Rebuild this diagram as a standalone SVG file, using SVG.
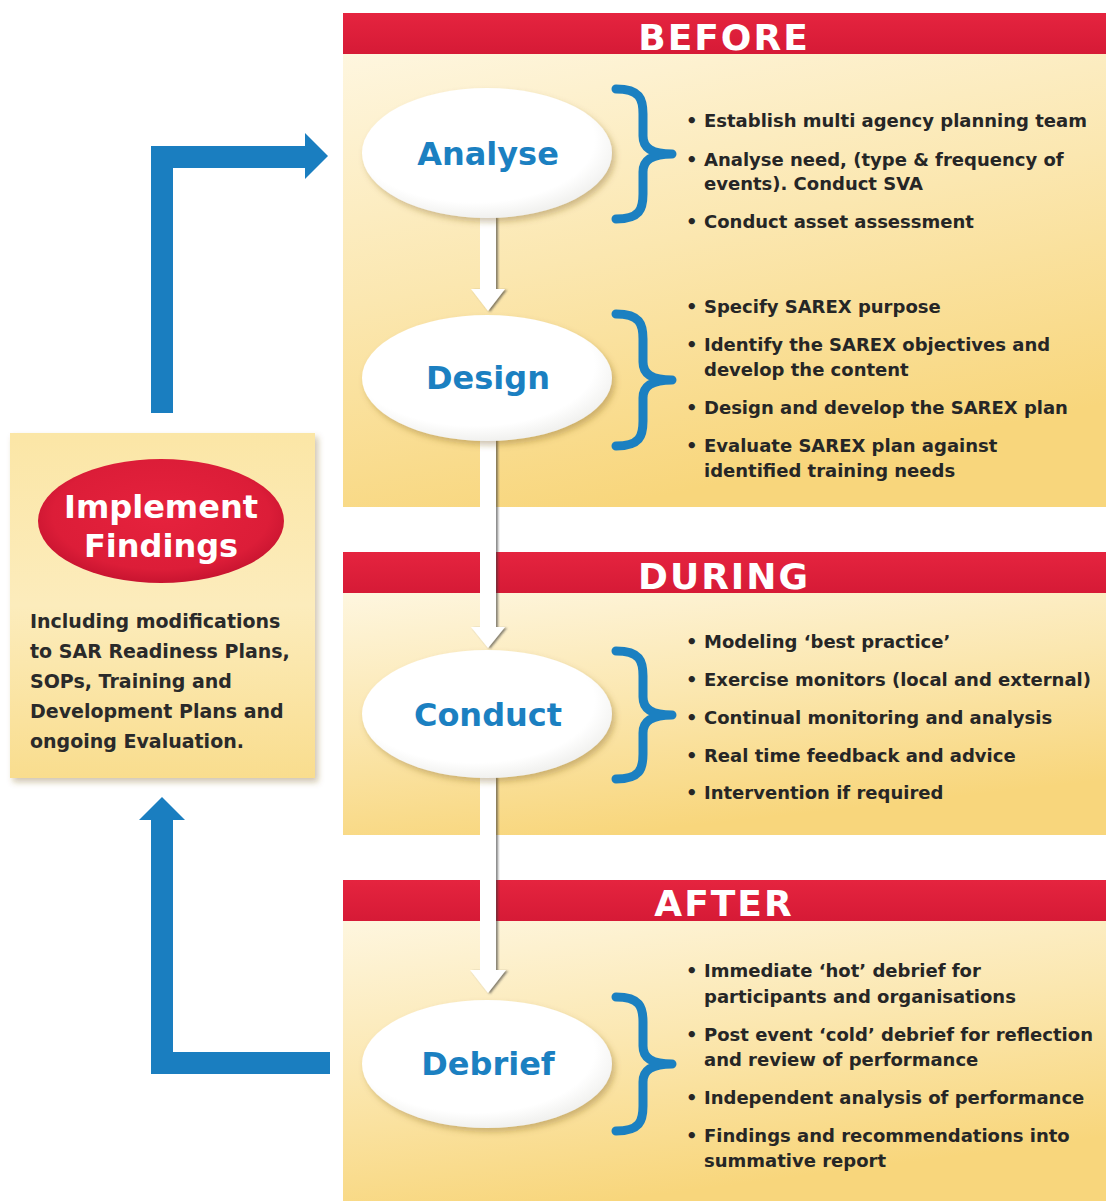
<svg xmlns="http://www.w3.org/2000/svg" width="1106" height="1201" viewBox="0 0 1106 1201">
<defs>
<linearGradient id="panel" x1="0" y1="0" x2="0.35" y2="1">
<stop offset="0" stop-color="#fef6df"/>
<stop offset="0.5" stop-color="#fbe7b0"/>
<stop offset="1" stop-color="#f8d67c"/>
</linearGradient>
<linearGradient id="leftbox" x1="0" y1="0" x2="0" y2="1">
<stop offset="0" stop-color="#fbe6a6"/>
<stop offset="0.5" stop-color="#fcecbc"/>
<stop offset="1" stop-color="#f9dd8e"/>
</linearGradient>
<linearGradient id="redbar" x1="0" y1="0" x2="0" y2="1">
<stop offset="0" stop-color="#e5243f"/>
<stop offset="1" stop-color="#d61a36"/>
</linearGradient>
<radialGradient id="redell" cx="0.5" cy="0.45" r="0.55">
<stop offset="0" stop-color="#e6223d"/>
<stop offset="0.8" stop-color="#dc1d38"/>
<stop offset="1" stop-color="#c81430"/>
</radialGradient>
<radialGradient id="whiteell" cx="0.45" cy="0.4" r="0.6">
<stop offset="0" stop-color="#ffffff"/>
<stop offset="0.8" stop-color="#ffffff"/>
<stop offset="1" stop-color="#f1f1ef"/>
</radialGradient>
<filter id="shadow" x="-10%" y="-10%" width="125%" height="130%">
<feDropShadow dx="3" dy="4" stdDeviation="3" flood-color="#7a5a20" flood-opacity="0.35"/>
</filter>
<filter id="ashadow" x="-50%" y="-10%" width="200%" height="130%">
<feDropShadow dx="2" dy="1" stdDeviation="1.2" flood-color="#333" flood-opacity="0.6"/>
</filter>
<style>
.hdr{font-family:"DejaVu Sans","Liberation Sans",sans-serif;font-weight:bold;font-size:36px;fill:#ffffff;text-anchor:middle;letter-spacing:2px}
.node{font-family:"DejaVu Sans","Liberation Sans",sans-serif;font-weight:bold;font-size:32px;fill:#1b80c1;text-anchor:middle}
.bul{font-family:"DejaVu Sans","Liberation Sans",sans-serif;font-weight:bold;font-size:18px;fill:#262626}
.lb{font-family:"DejaVu Sans","Liberation Sans",sans-serif;font-weight:bold;font-size:19px;fill:#2a2a2a}
.imp{font-family:"DejaVu Sans","Liberation Sans",sans-serif;font-weight:bold;font-size:32px;fill:#ffffff;text-anchor:middle}
.brace{fill:none;stroke:#1b80c1;stroke-width:9;stroke-linecap:round;stroke-linejoin:round}
.blue{fill:none;stroke:#1a7ec0;stroke-width:22;stroke-linejoin:miter}
.bhead{fill:#1a7ec0}
.warr{fill:#ffffff;filter:url(#ashadow)}
.wellipse{fill:url(#whiteell);filter:url(#shadow)}
</style>
</defs>
<rect width="1106" height="1201" fill="#ffffff"/>

<g id="panel-before">
<rect x="343" y="53" width="763" height="454" fill="url(#panel)"/>
<rect x="343" y="13" width="763" height="41" fill="url(#redbar)"/>
<text class="hdr" x="724" y="50">BEFORE</text>
</g>
<g id="panel-during">
<rect x="343" y="593" width="763" height="242" fill="url(#panel)"/>
<rect x="343" y="552" width="763" height="41" fill="url(#redbar)"/>
<text class="hdr" x="724" y="589">DURING</text>
</g>
<g id="panel-after">
<rect x="343" y="920" width="763" height="281" fill="url(#panel)"/>
<rect x="343" y="880" width="763" height="41" fill="url(#redbar)"/>
<text class="hdr" x="724" y="916">AFTER</text>
</g>

<g id="connectors">
<path class="blue" d="M162,413 V157 H306"/>
<polygon class="bhead" points="305,133 328,156 305,179"/>
<path class="blue" d="M330,1063 H162 V819"/>
<polygon class="bhead" points="139,820 162,797 185,820"/>
<path class="warr" d="M480,216 H496 V289 H505 L488,311 L471,289 H480 Z"/>
<path class="warr" d="M480,438 H496 V627 H505 L488,648 L471,627 H480 Z"/>
<path class="warr" d="M480,776 H496 V970 H506 L488,993 L470,970 H480 Z"/>
</g>

<g id="implement-findings">
<rect x="10" y="433" width="305" height="345" fill="url(#leftbox)" filter="url(#shadow)"/>
<ellipse cx="161" cy="521" rx="123" ry="62" fill="url(#redell)"/>
<text class="imp" x="161" y="518">Implement</text>
<text class="imp" x="161" y="557">Findings</text>
<text class="lb" x="30" y="628">Including modifications</text>
<text class="lb" x="30" y="658">to SAR Readiness Plans,</text>
<text class="lb" x="30" y="688">SOPs, Training and</text>
<text class="lb" x="30" y="718">Development Plans and</text>
<text class="lb" x="30" y="748">ongoing Evaluation.</text>
</g>

<g id="analyse">
<ellipse class="wellipse" cx="487" cy="153" rx="125" ry="65"/>
<text class="node" x="488" y="165">Analyse</text>
<path class="brace" d="M616,89 C640,89 643,99 643,114 L643,136 C643,148 652,154 672,154 C652,154 643,160 643,172 L643,194 C643,209 640,219 616,219"/>
<text class="bul" x="686" y="127">•</text><text class="bul" x="704" y="127">Establish multi agency planning team</text>
<text class="bul" x="686" y="166">•</text><text class="bul" x="704" y="166">Analyse need, (type &amp; frequency of</text>
<text class="bul" x="704" y="190">events). Conduct SVA</text>
<text class="bul" x="686" y="228">•</text><text class="bul" x="704" y="228">Conduct asset assessment</text>
</g>

<g id="design">
<ellipse class="wellipse" cx="487" cy="378" rx="125" ry="63"/>
<text class="node" x="488" y="389">Design</text>
<path class="brace" d="M616,314 C640,314 643,324 643,339 L643,362 C643,374 652,380 672,380 C652,380 643,386 643,398 L643,421 C643,436 640,446 616,446"/>
<text class="bul" x="686" y="313">•</text><text class="bul" x="704" y="313">Specify SAREX purpose</text>
<text class="bul" x="686" y="351">•</text><text class="bul" x="704" y="351">Identify the SAREX objectives and</text>
<text class="bul" x="704" y="376">develop the content</text>
<text class="bul" x="686" y="414">•</text><text class="bul" x="704" y="414">Design and develop the SAREX plan</text>
<text class="bul" x="686" y="452">•</text><text class="bul" x="704" y="452">Evaluate SAREX plan against</text>
<text class="bul" x="704" y="477">identified training needs</text>
</g>

<g id="conduct">
<ellipse class="wellipse" cx="487" cy="714" rx="125" ry="64"/>
<text class="node" x="488" y="726">Conduct</text>
<path class="brace" d="M616,651 C640,651 643,661 643,676 L643,697 C643,709 652,715 672,715 C652,715 643,721 643,733 L643,754 C643,769 640,779 616,779"/>
<text class="bul" x="686" y="648">•</text><text class="bul" x="704" y="648">Modeling ‘best practice’</text>
<text class="bul" x="686" y="686">•</text><text class="bul" x="704" y="686">Exercise monitors (local and external)</text>
<text class="bul" x="686" y="724">•</text><text class="bul" x="704" y="724">Continual monitoring and analysis</text>
<text class="bul" x="686" y="762">•</text><text class="bul" x="704" y="762">Real time feedback and advice</text>
<text class="bul" x="686" y="799">•</text><text class="bul" x="704" y="799">Intervention if required</text>
</g>

<g id="debrief">
<ellipse class="wellipse" cx="487" cy="1064" rx="125" ry="64"/>
<text class="node" x="488" y="1075">Debrief</text>
<path class="brace" d="M616,997 C640,997 643,1007 643,1022 L643,1046 C643,1058 652,1064 672,1064 C652,1064 643,1070 643,1082 L643,1106 C643,1121 640,1131 616,1131"/>
<text class="bul" x="686" y="977">•</text><text class="bul" x="704" y="977">Immediate ‘hot’ debrief for</text>
<text class="bul" x="704" y="1003">participants and organisations</text>
<text class="bul" x="686" y="1041">•</text><text class="bul" x="704" y="1041">Post event ‘cold’ debrief for reflection</text>
<text class="bul" x="704" y="1066">and review of performance</text>
<text class="bul" x="686" y="1104">•</text><text class="bul" x="704" y="1104">Independent analysis of performance</text>
<text class="bul" x="686" y="1142">•</text><text class="bul" x="704" y="1142">Findings and recommendations into</text>
<text class="bul" x="704" y="1167">summative report</text>
</g>
</svg>
